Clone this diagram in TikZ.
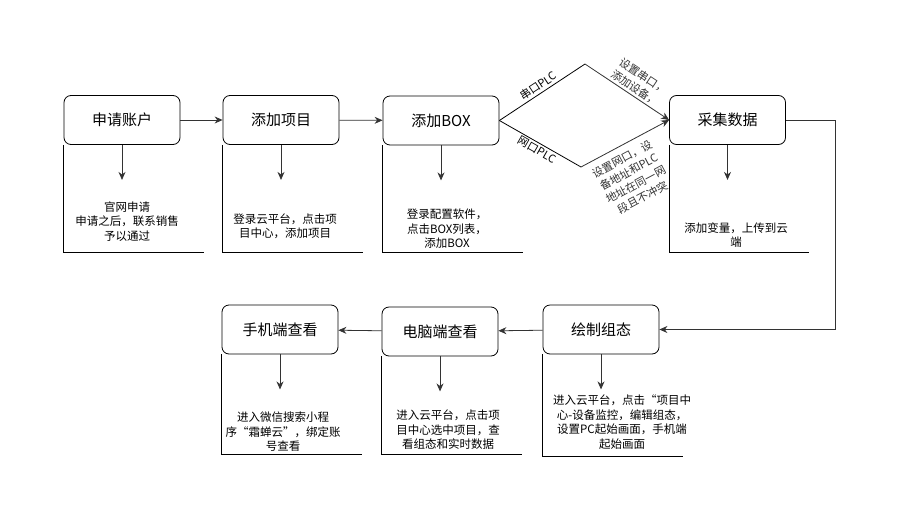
\documentclass[tikz,border=0pt]{standalone}
\usepackage{fontspec}
\setmainfont{Noto Sans CJK SC}
\usetikzlibrary{arrows.meta}

\tikzset{
  stage/.style={draw, rounded corners=7pt, minimum width=116pt, minimum height=49pt,
    inner sep=0pt, font=\fontsize{15}{18}\selectfont},
  note/.style={align=center, inner sep=0pt, font=\fontsize{11.5}{14.5}\selectfont},
  tag/.style={align=center, inner sep=2pt, font=\fontsize{11}{14.5}\selectfont},
  flow/.style={-{Stealth[length=8pt,width=7pt]}, black!80},
}

\begin{document}
\begin{tikzpicture}[x=1pt, y=-1pt, line width=0.8pt]
  \useasboundingbox[fill=white] (0,0) rectangle (909,514);

  % the seven steps, top row left to right, bottom row right to left
  \node[stage] (account)   at (122,120)   {申请账户};
  \node[stage] (project)   at (281,120)   {添加项目};
  \node[stage] (addbox)    at (441,120.5) {添加BOX};
  \node[stage] (collect)   at (727.5,120) {采集数据};
  \node[stage] (config)    at (601,329.5) {绘制组态};
  \node[stage] (pcview)    at (440,331.5) {电脑端查看};
  \node[stage] (phoneview) at (280,329.5) {手机端查看};

  % each step gets a short arrow down and an open frame round its note
  \foreach \s/\h in {account/107, project/107, addbox/107, collect/107,
                     config/102, pcview/98, phoneview/100} {
    \path (\s.south) ++(0,35) coordinate (\s-tip);
    \draw[flow] (\s.south) -- (\s-tip);
    \draw (\s.south west) -- ++(0,\h) -- ++(140,0);
  }

  \node[note] (accountnote) at (127,221.5) {官网申请\\申请之后，联系销售\\予以通过};
  \node[note] (projectnote) at (285,226.5) {登录云平台，点击项\\目中心，添加项目};
  \node[note] (addboxnote)  at (447,229)   {登录配置软件，\\点击BOX列表，\\添加BOX};
  \node[note] (collectnote) at (736,235)   {添加变量，上传到云\\端};
  \node[note] (confignote)  at (622,422)   {进入云平台，点击“项目中\\心-设备监控，编辑组态，\\设置PC起始画面，手机端\\起始画面};
  \node[note] (pcnote)      at (448,430)   {进入云平台，点击项\\目中心选中项目，查\\看组态和实时数据};
  \node[note] (phonenote)   at (283,432)   {进入微信搜索小程\\序“霜蝉云”，绑定账\\号查看};

  \draw[flow] (account) -- (project);
  \draw[flow] (project) -- (addbox);

  % two ways to reach the PLC: serial port above, ethernet below
  \coordinate (upbend)  at (585,64);
  \coordinate (lowbend) at (581,167);
  \draw (addbox.east) -- node[tag, midway, above, sloped] {串口PLC} (upbend);
  \draw[flow] (upbend) -- node[tag, pos=0.55, above, sloped] {设置串口，\\添加设备，} (collect.west);
  \draw (addbox.east) -- node[tag, midway, below, sloped] {网口PLC} (lowbend);
  \draw[flow] (lowbend) -- node[tag, pos=0.4, below=5pt, sloped]
    {设置网口，设\\备地址和PLC\\地址在同一网\\段且不冲突} (collect.west);

  \coordinate (rail) at (835,120);
  \draw[flow] (collect.east) -- (rail) |- (config.east);
  \draw[flow] (config) -- (pcview);
  \draw[flow] (pcview) -- (phoneview);
\end{tikzpicture}
\end{document}
